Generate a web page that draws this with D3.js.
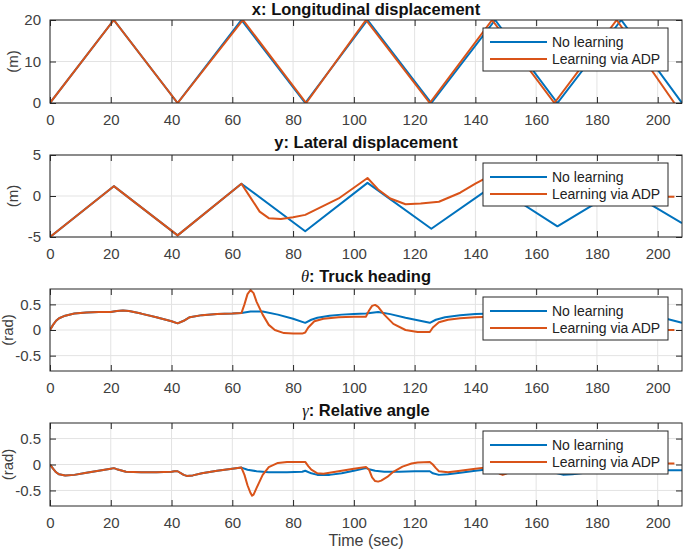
<!DOCTYPE html>
<html>
<head>
<meta charset="utf-8">
<script src="https://cdn.jsdelivr.net/npm/d3@7"></script>
<style>
  body { margin: 0; background: #fff; }
  svg { font-family: "Liberation Sans", Arial, sans-serif; }
</style>
</head>
<body>
<svg width="685" height="552"></svg>
<script>
// Time axis shared by all four panels
const timeDomain = [0, 208];
const timeTicks = [0, 20, 40, 60, 80, 100, 120, 140, 160, 180, 200];
const seriesNames = ["No learning", "Learning via ADP"];

// x: longitudinal displacement (m)
const xNoLearnT = [0, 21, 42, 63, 84, 104.5, 125.5, 146.5, 167, 188, 208];
const xNoLearnV = [0, 20, 0, 20, 0, 20, 0, 20, 0, 20, 0];
const xAdpT = [0, 21, 42, 63.5, 84.3, 104, 125, 145.5, 166, 186.5, 205.5];
const xAdpV = [0, 20, 0, 20, 0, 20, 0, 20, 0, 20, 0];

// y: lateral displacement (m)
const yNoLearnT = [0, 21, 42, 63, 84, 104.5, 125.5, 146, 167, 188, 198, 208];
const yNoLearnV = [-5, 1.2, -4.8, 1.5, -4.3, 1.6, -4.0, 1.3, -3.7, 1.0, -1.1, -3.3];
const yAdpT = [0, 21, 42, 63, 66, 69, 72, 76, 80, 84, 90, 95, 100, 104.5, 108, 112, 117, 122, 128, 135, 140, 144.5,
  148, 152, 158, 163, 169, 176, 181, 186, 190, 195, 200, 205.5];
const yAdpV = [-5, 1.2, -4.8, 1.5, -0.2, -1.9, -2.7, -2.8, -2.6, -2.3, -1.2, -0.3, 1.0, 2.2, 0.8, -0.3, -1.0, -0.9, -0.7,
  0.4, 1.5, 2.4, 1.0, -0.1, -0.6, -0.5, -0.3, 0.7, 1.6, 2.5, 1.1, 0.1, -0.1, -0.1];

// theta: truck heading (rad)
const thNoLearnT = [0, 1, 2, 3, 5, 8, 12, 16, 20, 22, 24, 26, 30, 35, 40, 42, 44, 46, 50, 55, 60, 63,
  66, 70, 75, 80, 84, 86, 88, 92, 96, 100, 104, 108, 112, 117, 121, 125, 127, 130, 135, 140, 146,
  150, 155, 160, 163, 167, 169, 172, 176, 182, 188, 192, 197, 203.5, 208];
const thNoLearnV = [0, 0.1, 0.18, 0.23, 0.28, 0.32, 0.34, 0.35, 0.35, 0.37, 0.38, 0.37, 0.32, 0.25, 0.17, 0.13, 0.18, 0.25, 0.29, 0.31, 0.32, 0.33,
  0.36, 0.36, 0.3, 0.22, 0.14, 0.2, 0.24, 0.28, 0.3, 0.31, 0.32, 0.35, 0.31, 0.24, 0.19, 0.14, 0.2, 0.25, 0.29, 0.31, 0.32,
  0.34, 0.29, 0.22, 0.18, 0.14, 0.2, 0.24, 0.28, 0.3, 0.32, 0.34, 0.3, 0.21, 0.14];
const thAdpT = [0, 1, 2, 3, 5, 8, 12, 16, 20, 22, 24, 26, 30, 35, 40, 42, 44, 46, 50, 55, 60, 63,
  64, 65, 66, 67, 68, 70, 72, 74, 77, 80, 83, 84, 85, 87, 90, 95, 100, 104, 105, 106, 107, 108, 110, 113, 117,
  121, 125, 126, 128, 131, 135, 140, 145, 147, 148, 150, 153, 157, 162, 166, 168, 170, 175, 180, 185, 187, 189,
  192, 196, 200, 205.5];
const thAdpV = [0, 0.1, 0.18, 0.23, 0.28, 0.32, 0.34, 0.35, 0.35, 0.37, 0.38, 0.37, 0.32, 0.25, 0.17, 0.13, 0.18, 0.25, 0.29, 0.31, 0.32, 0.33,
  0.5, 0.7, 0.78, 0.72, 0.55, 0.3, 0.1, 0.0, -0.06, -0.07, -0.07, -0.05, 0.05, 0.17, 0.22, 0.25, 0.26, 0.26, 0.38, 0.47, 0.49, 0.45, 0.3, 0.12, 0.0,
  -0.04, -0.04, 0.05, 0.15, 0.2, 0.23, 0.25, 0.26, 0.4, 0.42, 0.35, 0.15, 0.0, -0.04, -0.04, 0.05, 0.15, 0.2, 0.22, 0.23, 0.3, 0.32,
  0.2, 0.05, 0.0, 0.0];

// gamma: relative angle (rad)
const gaNoLearnT = [0, 1, 2, 3, 5, 8, 12, 16, 20, 21, 22, 25, 30, 35, 40, 41, 42, 44, 45, 47, 50, 55, 60, 63,
  65, 68, 72, 78, 83, 84, 86, 88, 92, 96, 100, 104, 105, 107, 110, 115, 120, 125, 126, 128, 131, 135, 140, 146,
  147, 149, 152, 156, 161, 166, 167, 169, 172, 176, 181, 187, 188, 190, 193, 197, 202, 208];
const gaNoLearnV = [0, -0.08, -0.15, -0.19, -0.21, -0.2, -0.16, -0.12, -0.08, -0.07, -0.09, -0.14, -0.15, -0.15, -0.14, -0.13, -0.13, -0.2, -0.22, -0.21, -0.17, -0.12, -0.08, -0.06,
  -0.1, -0.13, -0.15, -0.15, -0.14, -0.12, -0.17, -0.2, -0.2, -0.17, -0.12, -0.07, -0.09, -0.12, -0.14, -0.14, -0.13, -0.13, -0.17, -0.2, -0.19, -0.16, -0.12, -0.08,
  -0.11, -0.13, -0.14, -0.14, -0.13, -0.13, -0.17, -0.2, -0.19, -0.16, -0.12, -0.08, -0.11, -0.13, -0.14, -0.13, -0.11, -0.11];
const gaAdpT = [0, 1, 2, 3, 5, 8, 12, 16, 20, 21, 22, 25, 30, 35, 40, 41, 42, 44, 45, 47, 50, 55, 60, 63,
  64, 65, 66, 66.5, 67, 68, 70, 72, 75, 78, 84, 85, 86, 88, 90, 95, 100, 104, 105, 106, 107, 108, 109, 111, 113,
  116, 119, 121, 125, 126, 127, 128, 131, 135, 140, 145, 146, 147, 148, 149, 150, 152, 155, 158, 162, 166, 167,
  168, 170, 172, 175, 180, 187, 188, 189, 190, 191, 193, 196, 200, 205.5];
const gaAdpV = [0, -0.08, -0.15, -0.19, -0.21, -0.2, -0.16, -0.12, -0.08, -0.07, -0.09, -0.14, -0.15, -0.15, -0.14, -0.13, -0.13, -0.2, -0.22, -0.21, -0.17, -0.12, -0.08, -0.06,
  -0.2, -0.4, -0.55, -0.6, -0.58, -0.45, -0.2, -0.05, 0.03, 0.05, 0.05, -0.03, -0.1, -0.17, -0.18, -0.13, -0.08, -0.05, -0.1, -0.25, -0.32, -0.33, -0.31, -0.24, -0.14,
  -0.04, 0.02, 0.04, 0.05, 0.0, -0.07, -0.13, -0.15, -0.12, -0.08, -0.05, -0.07, -0.13, -0.18, -0.2, -0.18, -0.12, -0.04, 0.0, 0.03, 0.04, 0.0,
  -0.08, -0.14, -0.14, -0.1, -0.06, -0.04, -0.08, -0.12, -0.13, -0.1, -0.04, 0.0, 0.02, 0.02];

const colors = ["#0072BD", "#D95319"];

const svg = d3.select("svg");
const left = 50, right = 682;

const x = d3.scaleLinear().domain(timeDomain).range([left, right]);

const panels = [
  { top: 20, bottom: 103, yDomain: [0, 20], yTicks: [0, 10, 20], yLabel: "(m)",
    title: [["x", false], [": Longitudinal displacement", false]],
    series: [[xNoLearnT, xNoLearnV], [xAdpT, xAdpV]] },
  { top: 155, bottom: 237, yDomain: [-5, 5], yTicks: [-5, 0, 5], yLabel: "(m)",
    title: [["y", false], [": Lateral displacement", false]],
    series: [[yNoLearnT, yNoLearnV], [yAdpT, yAdpV]] },
  { top: 289, bottom: 371, yDomain: [-0.8, 0.8], yTicks: [-0.5, 0, 0.5], yLabel: "(rad)",
    title: [["\u03b8", true], [": Truck heading", false]],
    series: [[thNoLearnT, thNoLearnV], [thAdpT, thAdpV]] },
  { top: 423, bottom: 506, yDomain: [-0.8, 0.8], yTicks: [-0.5, 0, 0.5], yLabel: "(rad)",
    title: [["\u03b3", true], [": Relative angle", false]],
    series: [[gaNoLearnT, gaNoLearnV], [gaAdpT, gaAdpV]] }
];

panels.forEach(function(p, pi) {
  const y = d3.scaleLinear().domain(p.yDomain).range([p.bottom, p.top]);
  const g = svg.append("g");

  // grid
  g.selectAll(".vgrid").data(timeTicks).enter().append("line")
    .attr("x1", d => x(d)).attr("x2", d => x(d))
    .attr("y1", p.top).attr("y2", p.bottom)
    .attr("stroke", "#e3e3e3").attr("stroke-width", 1);
  g.selectAll(".hgrid").data(p.yTicks).enter().append("line")
    .attr("x1", left).attr("x2", right)
    .attr("y1", d => y(d)).attr("y2", d => y(d))
    .attr("stroke", "#e3e3e3").attr("stroke-width", 1);

  // clip for lines
  g.append("clipPath").attr("id", "clip" + pi)
    .append("rect").attr("x", left).attr("y", p.top)
    .attr("width", right - left).attr("height", p.bottom - p.top);

  const line = d3.line()
    .x(d => x(d[0])).y(d => y(d[1]));

  p.series.forEach(function(s, si) {
    const pts = s[0].map((t, i) => [t, s[1][i]]);
    g.append("path")
      .datum(pts)
      .attr("clip-path", "url(#clip" + pi + ")")
      .attr("fill", "none")
      .attr("stroke", colors[si])
      .attr("stroke-width", 2)
      .attr("stroke-linejoin", "round")
      .attr("d", line);
  });

  // axes with inward ticks on all four sides
  const fmt = d => (d === 0 ? "0" : String(d));
  g.append("g").attr("transform", "translate(0," + p.bottom + ")")
    .call(d3.axisBottom(x).tickValues(timeTicks).tickSizeInner(-6).tickSizeOuter(0).tickPadding(11).tickFormat(fmt));
  g.append("g").attr("transform", "translate(0," + p.top + ")")
    .call(d3.axisTop(x).tickValues(timeTicks).tickSizeInner(-6).tickSizeOuter(0).tickFormat(""));
  g.append("g").attr("transform", "translate(" + left + ",0)")
    .call(d3.axisLeft(y).tickValues(p.yTicks).tickSizeInner(-6).tickSizeOuter(0).tickPadding(9).tickFormat(fmt));
  g.append("g").attr("transform", "translate(" + right + ",0)")
    .call(d3.axisRight(y).tickValues(p.yTicks).tickSizeInner(-6).tickSizeOuter(0).tickFormat(""));

  g.selectAll(".domain").remove();
  g.selectAll(".tick line").attr("stroke", "#262626");
  g.selectAll(".tick text").attr("fill", "#404040").style("font-size", "15px");

  g.append("rect")
    .attr("x", left).attr("y", p.top)
    .attr("width", right - left).attr("height", p.bottom - p.top)
    .attr("fill", "none").attr("stroke", "#262626").attr("stroke-width", 1);

  // title (the first one is nudged down so it stays inside the picture)
  const title = g.append("text")
    .attr("x", (left + right) / 2).attr("y", Math.max(p.top - 7, 15))
    .attr("text-anchor", "middle")
    .style("font-size", "16.5px").style("font-weight", "bold").attr("fill", "#111");
  p.title.forEach(function(part) {
    title.append("tspan").text(part[0])
      .style("font-style", part[1] ? "italic" : "normal")
      .style("font-family", part[1] ? "'Liberation Serif', serif" : null)
      .style("font-weight", part[1] ? "normal" : "bold");
  });

  // y label
  g.append("text")
    .attr("transform", "translate(" + (pi < 2 ? 18 : 13) + "," + ((p.top + p.bottom) / 2) + ") rotate(-90)")
    .attr("text-anchor", "middle")
    .attr("fill", "#404040")
    .style("font-size", "15px")
    .text(p.yLabel);

  // legend
  const lg = g.append("g").attr("transform", "translate(483," + (p.top + 8) + ")");
  lg.append("rect").attr("width", 185).attr("height", 43)
    .attr("fill", "#fff").attr("stroke", "#262626").attr("stroke-width", 1);
  seriesNames.forEach(function(name, si) {
    const ly = 14 + si * 17;
    lg.append("line").attr("x1", 7).attr("x2", 64).attr("y1", ly).attr("y2", ly)
      .attr("stroke", colors[si]).attr("stroke-width", 2);
    lg.append("text").attr("x", 69).attr("y", ly + 5)
      .style("font-size", "14px").attr("fill", "#222").text(name);
  });
});

// x axis label
svg.append("text")
  .attr("x", (left + right) / 2).attr("y", 546)
  .attr("text-anchor", "middle")
  .attr("fill", "#404040")
  .style("font-size", "16px")
  .text("Time (sec)");
</script>
</body>
</html>
